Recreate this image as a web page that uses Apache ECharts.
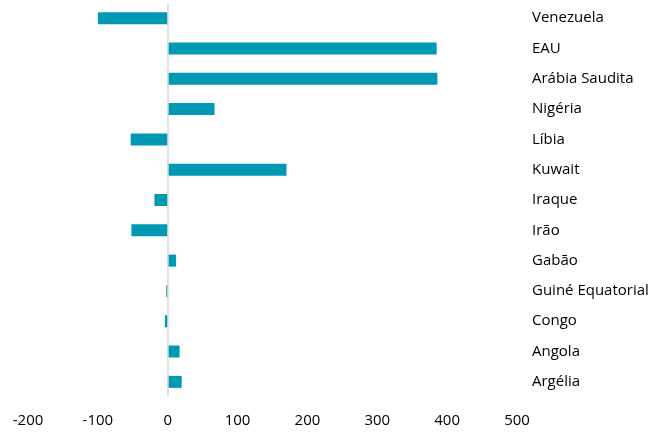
<!DOCTYPE html>
<html>
<head>
<meta charset="utf-8">
<script src="https://cdn.jsdelivr.net/npm/echarts@6/dist/echarts.min.js"></script>
<style>html,body{margin:0;padding:0;background:#fff}#c{width:670px;height:432px}</style>
</head>
<body>
<div id="c"></div>
<script>
const categories = ["Venezuela","EAU","Arábia Saudita","Nigéria","Líbia","Kuwait","Iraque","Irão","Gabão","Guiné Equatorial","Congo","Angola","Argélia"];
const values = [-100, 385, 386, 67, -53, 170, -19, -52, 12, -2, -4, 17, 20];
const xTicks = [-200, -100, 0, 100, 200, 300, 400, 500];

const chart = echarts.init(document.getElementById('c'), null, {renderer: 'canvas'});
chart.setOption({
  animation: false,
  grid: {left: 28, right: 153, top: 3, bottom: 35, containLabel: false},
  xAxis: {
    type: 'value', min: xTicks[0], max: xTicks[xTicks.length - 1], interval: 100,
    axisLine: {show: false}, axisTick: {show: false}, splitLine: {show: false},
    axisLabel: {color: '#000', fontFamily: 'Open Sans', fontSize: 15, margin: 16}
  },
  yAxis: {
    type: 'category', data: categories, inverse: true, position: 'right',
    axisLine: {show: false}, axisTick: {show: false},
    axisLabel: {color: '#000', fontFamily: 'Open Sans', fontSize: 15, margin: 15, align: 'left'}
  },
  series: [{
    type: 'bar', data: values, barWidth: 12,
    itemStyle: {color: '#0099b4'},
    markLine: {
      silent: true, symbol: ['none', 'none'], label: {show: false},
      lineStyle: {color: '#d9d9d9', width: 1.5, type: 'solid'},
      data: [{xAxis: 0}]
    }
  }]
});
</script>
</body>
</html>
